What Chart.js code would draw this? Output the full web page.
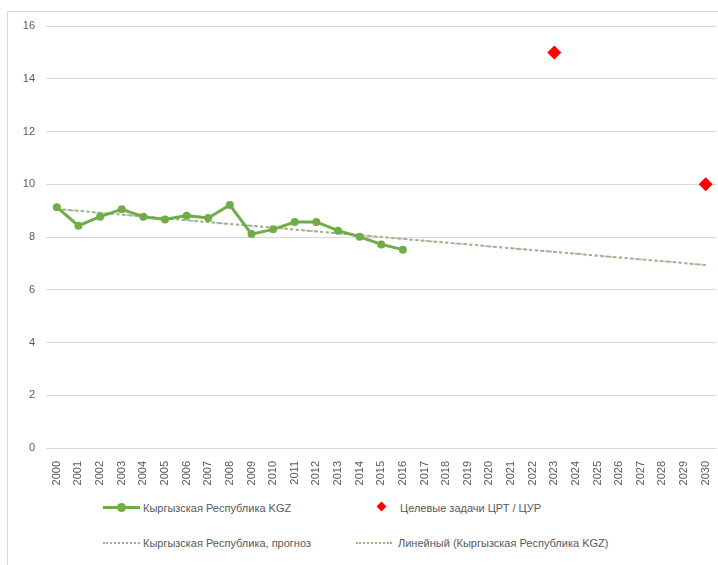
<!DOCTYPE html>
<html>
<head>
<meta charset="utf-8">
<script src="https://cdn.jsdelivr.net/npm/chart.js@4/dist/chart.umd.min.js"></script>
<style>
    body { margin: 0; background: #fff; font-family: "Liberation Sans", Arial, sans-serif; }
    #wrap { position: relative; width: 718px; height: 565px; overflow: hidden; }
    #frame { position: absolute; left: 7px; top: 11px; width: 740px; height: 600px; border: 1px solid #d9d9d9; }
    #chartBox { position: absolute; left: 0; top: 0; width: 724px; height: 501px; }
    .lg { position: absolute; font-size: 11px; color: #595959; white-space: nowrap; line-height: 14px; }
    .ico { position: absolute; }
</style>
</head>
<body>
<div id="wrap">
    <div id="frame"></div>
    <div id="chartBox"><canvas id="chart"></canvas></div>

    <div class="ico" style="left:103px; top:506px; width:37px; height:3px; background:#70ad47;"></div>
    <div class="ico" style="left:117px; top:503px; width:9px; height:9px; border-radius:50%; background:#70ad47;"></div>
    <div class="lg" style="left:143px; top:501px;">Кыргызская Республика KGZ</div>

    <div class="ico" style="left:378px; top:503px; width:7px; height:7px; background:#ff0000; transform:rotate(45deg);"></div>
    <div class="lg" style="left:400px; top:501px;">Целевые задачи ЦРТ / ЦУР</div>

    <div class="ico" style="left:103px; top:542px; width:37px; height:0; border-top:2px dotted #a6a6a6;"></div>
    <div class="lg" style="left:143px; top:536px;">Кыргызская Республика, прогноз</div>

    <div class="ico" style="left:356px; top:542px; width:36px; height:0; border-top:2px dotted #8fc06d;"></div>
    <div class="lg" style="left:398px; top:536px;">Линейный (Кыргызская Республика KGZ)</div>
</div>

<script>
var years = ['2000', '2001', '2002', '2003', '2004', '2005', '2006', '2007', '2008', '2009',
    '2010', '2011', '2012', '2013', '2014', '2015', '2016', '2017', '2018', '2019',
    '2020', '2021', '2022', '2023', '2024', '2025', '2026', '2027', '2028', '2029', '2030'];

var kgzValues = [9.13, 8.43, 8.77, 9.05, 8.77, 8.66, 8.81, 8.72, 9.21, 8.11,
    8.29, 8.57, 8.57, 8.24, 8.01, 7.72, 7.52];

// only the two ends of the straight lines are known
var forecastValues = [9.06, null, null, null, null, null, null, null, null, null,
    null, null, null, null, null, null, null, null, null, null,
    null, null, null, null, null, null, null, null, null, null, 6.94];

var targetValues = [null, null, null, null, null, null, null, null, null, null,
    null, null, null, null, null, null, null, null, null, null,
    null, null, null, 15, null, null, null, null, null, null, 10];

var yTicks = [0, 2, 4, 6, 8, 10, 12, 14, 16];

var textColor = '#595959';
var gridColor = '#d9d9d9';

var data = {
    labels: years,
    datasets: [
        {
            label: 'Кыргызская Республика KGZ',
            data: kgzValues,
            borderColor: '#70ad47',
            backgroundColor: '#70ad47',
            borderWidth: 3,
            pointRadius: 4,
            pointBorderWidth: 0,
            tension: 0,
            order: 1
        },
        {
            label: 'Целевые задачи ЦРТ / ЦУР',
            data: targetValues,
            showLine: false,
            pointStyle: 'rectRot',
            pointRadius: 7,
            pointBorderWidth: 0,
            backgroundColor: '#ff0000',
            borderColor: '#ff0000',
            order: 0
        },
        {
            label: 'Кыргызская Республика, прогноз',
            data: forecastValues,
            spanGaps: true,
            borderColor: '#a6a6a6',
            borderWidth: 2,
            borderDash: [3, 3],
            pointRadius: 0,
            order: 3
        },
        {
            label: 'Линейный (Кыргызская Республика KGZ)',
            data: forecastValues,
            spanGaps: true,
            borderColor: '#8fc06d',
            borderWidth: 1.5,
            borderDash: [2, 3],
            pointRadius: 0,
            order: 2
        }
    ]
};

var config = {
    type: 'line',
    data: data,
    options: {
        responsive: true,
        maintainAspectRatio: false,
        animation: false,
        layout: { padding: { top: 26, right: 0, left: 0, bottom: 0 } },
        plugins: {
            legend: { display: false },
            tooltip: { enabled: false }
        },
        scales: {
            x: {
                type: 'category',
                offset: true,
                grid: { display: false },
                border: { display: false },
                ticks: {
                    color: textColor,
                    font: { size: 11, family: 'Liberation Sans' },
                    minRotation: 90,
                    maxRotation: 90,
                    autoSkip: false,
                    padding: 5
                },
                afterFit: function (axis) { axis.height = 53; }
            },
            y: {
                min: 0,
                max: 16,
                afterBuildTicks: function (axis) {
                    axis.ticks = yTicks.map(v => ({ value: v }));
                },
                grid: { color: gridColor, drawTicks: false, lineWidth: 1 },
                border: { display: false },
                ticks: {
                    color: textColor,
                    font: { size: 11, family: 'Liberation Sans' },
                    padding: 11
                },
                afterFit: function (axis) { axis.width = 46; }
            }
        }
    }
};

var chart = new Chart(document.getElementById('chart'), config);
</script>
</body>
</html>
